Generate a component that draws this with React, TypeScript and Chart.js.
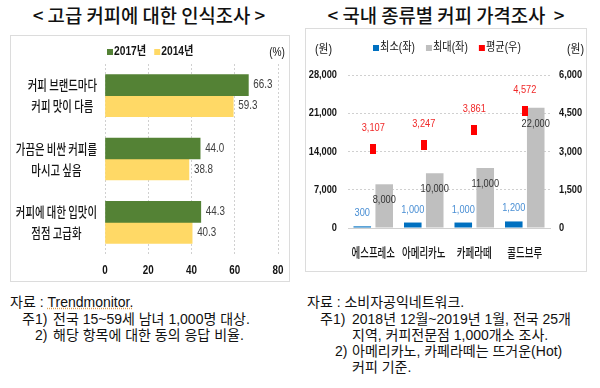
import React, { useEffect, useRef } from "react";
import { Chart, registerables } from "chart.js";

Chart.register(...registerables);

// ---------- data: left chart (고급 커피에 대한 인식조사) ----------
const surveyCategories = [
  ["커피 브랜드마다", "커피 맛이 다름"],
  ["가끔은 비싼 커피를", "마시고 싶음"],
  ["커피에 대한 입맛이", "점점 고급화"],
];
const surveySeriesNames = ["2017년", "2014년"];
const survey2017 = [66.3, 44.0, 44.3];
const survey2014 = [59.3, 38.8, 40.3];
const surveyTicks = [0, 20, 40, 60, 80];

// ---------- data: right chart (국내 종류별 커피 가격조사) ----------
const priceCategories = ["에스프레소", "아메리카노", "카페라떼", "콜드브루"];
const priceSeriesNames = ["최소(좌)", "최대(좌)", "평균(우)"];
const priceMin = [300, 1000, 1000, 1200];
const priceMax = [8000, 10000, 11000, 22000];
const priceAvg = [3107, 3247, 3861, 4572];
const priceLeftTicks = [0, 7000, 14000, 21000, 28000];
const priceRightTicks = [0, 1500, 3000, 4500, 6000];

// ---------- text ----------
const leftTitle = "< 고급 커피에 대한 인식조사 >";
const rightTitle = "< 국내 종류별 커피 가격조사 \u00a0>";

const NUM_FONT = "'Liberation Sans', 'Noto Sans CJK KR', sans-serif";
const KR_FONT = "'Noto Sans CJK KR', sans-serif";
const NOTE_FONT = "'Liberation Sans', 'Noto Sans CJK KR', sans-serif";

const GREEN = "#548235";
const YELLOW = "#FFD966";
const BLUE = "#0070C0";
const GRAY = "#BFBFBF";
const RED = "#FF0000";
const TEXT = "#141414";

const fmt = (v: number) => Number(v).toLocaleString("en-US");

// draw text horizontally condensed by sx around the anchor point
function txt(
  ctx: CanvasRenderingContext2D,
  s: string,
  x: number,
  y: number,
  font: string,
  color: string,
  align: CanvasTextAlign,
  sx: number
) {
  ctx.save();
  ctx.font = font;
  ctx.fillStyle = color;
  ctx.textAlign = align;
  ctx.textBaseline = "middle";
  ctx.translate(x, y);
  ctx.scale(sx, 1);
  ctx.fillText(s, 0, 0);
  ctx.restore();
}
function tw(ctx: CanvasRenderingContext2D, s: string, font: string, sx: number) {
  ctx.save();
  ctx.font = font;
  const w = ctx.measureText(s).width * sx;
  ctx.restore();
  return w;
}

function SurveyChart() {
  const ref = useRef<HTMLCanvasElement | null>(null);
  useEffect(() => {
    if (!ref.current) return;
    const deco = {
      id: "surveyDeco",
      afterDatasetsDraw(chart: any) {
        const ctx = chart.ctx as CanvasRenderingContext2D;
        const area = chart.chartArea;
        // value labels
        const vFont = `12px ${NUM_FONT}`;
        chart.data.datasets.forEach((ds: any, di: number) => {
          chart.getDatasetMeta(di).data.forEach((el: any, j: number) => {
            txt(ctx, Number(ds.data[j]).toFixed(1), el.x + 5, el.y, vFont, "#404040", "left", 0.82);
          });
        });
        // category labels: block right-aligned, lines centred within block
        const cFont = `500 13.5px ${KR_FONT}`;
        const csx = 0.77;
        const right = area.left - 8;
        surveyCategories.forEach((lines, j) => {
          const widest = Math.max(...lines.map((l) => tw(ctx, l, cFont, csx)));
          const cx = right - widest / 2;
          lines.forEach((line, i) => {
            const el = chart.getDatasetMeta(i).data[j];
            txt(ctx, line, cx, el.y, cFont, TEXT, "center", csx);
          });
        });
        // x tick labels
        const xs = chart.scales.x;
        const tFont = `bold 12px ${NUM_FONT}`;
        xs.ticks.forEach((t: any) => {
          txt(ctx, String(t.value), xs.getPixelForValue(t.value), area.bottom + 17, tFont, TEXT, "center", 0.82);
        });
        // legend
        const ly = area.top - 12;
        let x = area.left + 2;
        const lFont = `bold 12.5px ${NUM_FONT}`;
        chart.data.datasets.forEach((ds: any) => {
          ctx.fillStyle = ds.backgroundColor;
          ctx.fillRect(x, ly - 3, 6, 6);
          txt(ctx, ds.label, x + 7, ly, lFont, TEXT, "left", 0.82);
          x += 7 + tw(ctx, ds.label, lFont, 0.82) + 8;
        });
        txt(ctx, "(%)", area.right + 7, ly + 1, `12px ${NUM_FONT}`, TEXT, "right", 0.85);
      },
    };
    const chart = new Chart(ref.current, {
      type: "bar",
      data: {
        labels: surveyCategories.map((l) => l.join(" ")),
        datasets: [
          {
            label: surveySeriesNames[0],
            data: survey2017,
            backgroundColor: GREEN,
            barThickness: 21,
            categoryPercentage: 0.727,
          },
          {
            label: surveySeriesNames[1],
            data: survey2014,
            backgroundColor: YELLOW,
            barThickness: 21,
            categoryPercentage: 0.727,
          },
        ],
      },
      options: {
        indexAxis: "y",
        animation: false,
        responsive: false,
        maintainAspectRatio: false,
        layout: { padding: { top: 29, right: 12, left: 0, bottom: 0 } },
        plugins: { legend: { display: false }, tooltip: { enabled: false } },
        scales: {
          x: {
            min: surveyTicks[0],
            max: surveyTicks[surveyTicks.length - 1],
            ticks: { display: false, stepSize: surveyTicks[1] - surveyTicks[0] },
            grid: { color: "#d0d0d0", drawTicks: false },
            border: { display: false, dash: [2, 2] },
            afterFit: (s: any) => {
              s.height = 28;
            },
          },
          y: {
            ticks: { display: false },
            grid: { display: false },
            border: { display: false },
            afterFit: (s: any) => {
              s.width = 95;
            },
          },
        },
      } as any,
      plugins: [deco],
    });
    return () => chart.destroy();
  }, []);
  return (
    <canvas
      ref={ref}
      width={280}
      height={247}
      style={{ position: "absolute", left: 10, top: 35, width: 280, height: 247 }}
    />
  );
}

function PriceChart() {
  const ref = useRef<HTMLCanvasElement | null>(null);
  useEffect(() => {
    if (!ref.current) return;
    const marker = document.createElement("canvas");
    marker.width = 6;
    marker.height = 10;
    const mctx = marker.getContext("2d")!;
    mctx.fillStyle = RED;
    mctx.fillRect(0, 0, 6, 10);

    const deco = {
      id: "priceDeco",
      afterDatasetsDraw(chart: any) {
        const ctx = chart.ctx as CanvasRenderingContext2D;
        const area = chart.chartArea;
        const vFont = `11px ${NUM_FONT}`;
        // min labels (above bar)
        chart.getDatasetMeta(0).data.forEach((el: any, j: number) => {
          txt(ctx, fmt(priceMin[j]), el.x, el.y - 13, vFont, "#4A8FD4", "center", 0.84);
        });
        // max labels (inside bar near its top)
        chart.getDatasetMeta(1).data.forEach((el: any, j: number) => {
          txt(ctx, fmt(priceMax[j]), el.x, el.y + 16, vFont, "#333333", "center", 0.84);
        });
        // avg labels (above marker)
        chart.getDatasetMeta(2).data.forEach((el: any, j: number) => {
          txt(ctx, fmt(priceAvg[j]), el.x, el.y - 21, vFont, "#F02828", "center", 0.84);
        });
        // y tick labels
        const tFont = `bold 11px ${NUM_FONT}`;
        const ys = chart.scales.y;
        ys.ticks.forEach((t: any) => {
          txt(ctx, fmt(t.value), area.left - 11, ys.getPixelForValue(t.value), tFont, TEXT, "right", 0.84);
        });
        const y1 = chart.scales.y1;
        y1.ticks.forEach((t: any) => {
          txt(ctx, fmt(t.value), area.right + 9, y1.getPixelForValue(t.value), tFont, TEXT, "left", 0.84);
        });
        // category labels
        const xs = chart.scales.x;
        const cFont = `500 13px ${KR_FONT}`;
        priceCategories.forEach((c, j) => {
          txt(ctx, c, xs.getPixelForTick(j), area.bottom + 24, cFont, TEXT, "center", 0.73);
        });
        // unit labels
        const uFont = `12px ${NOTE_FONT}`;
        txt(ctx, "(원)", 10, 22, uFont, TEXT, "left", 0.9);
        txt(ctx, "(원)", area.right + 17, 22, uFont, TEXT, "left", 0.9);
        // legend
        const ly = 20;
        let x = area.left + 25;
        const lFont = `12px ${NOTE_FONT}`;
        const colors = [BLUE, GRAY, RED];
        priceSeriesNames.forEach((name, i) => {
          ctx.fillStyle = colors[i];
          ctx.fillRect(x, ly - 3, 6, 6);
          txt(ctx, name, x + 7, ly, lFont, TEXT, "left", 0.85);
          x += 7 + tw(ctx, name, lFont, 0.85) + 11;
        });
      },
    };

    const chart = new Chart(ref.current, {
      type: "bar",
      data: {
        labels: priceCategories,
        datasets: [
          {
            label: priceSeriesNames[0],
            data: priceMin,
            backgroundColor: BLUE,
            yAxisID: "y",
            categoryPercentage: 0.87,
            barPercentage: 0.8,
            order: 2,
          },
          {
            label: priceSeriesNames[1],
            data: priceMax,
            backgroundColor: GRAY,
            yAxisID: "y",
            categoryPercentage: 0.87,
            barPercentage: 0.8,
            order: 2,
          },
          {
            type: "line",
            label: priceSeriesNames[2],
            data: priceAvg,
            yAxisID: "y1",
            showLine: false,
            pointStyle: marker,
            pointRadius: 5,
            backgroundColor: RED,
            borderColor: RED,
            order: 1,
          } as any,
        ],
      },
      options: {
        animation: false,
        responsive: false,
        maintainAspectRatio: false,
        layout: { padding: { top: 47, right: 0, left: 0, bottom: 0 } },
        plugins: { legend: { display: false }, tooltip: { enabled: false } },
        scales: {
          x: {
            ticks: { display: false },
            grid: { display: false, drawTicks: false },
            border: { display: true, color: "#d0d0d0" },
            afterFit: (s: any) => {
              s.height = 44;
            },
          },
          y: {
            position: "left",
            min: priceLeftTicks[0],
            max: priceLeftTicks[priceLeftTicks.length - 1],
            ticks: { display: false, stepSize: priceLeftTicks[1] - priceLeftTicks[0] },
            grid: {
              drawTicks: false,
              color: (c: any) => (c.tick && c.tick.value === 0 ? "rgba(0,0,0,0)" : "#d0d0d0"),
            },
            border: { display: false, dash: [2, 2] },
            afterFit: (s: any) => {
              s.width = 43;
            },
          },
          y1: {
            position: "right",
            min: priceRightTicks[0],
            max: priceRightTicks[priceRightTicks.length - 1],
            ticks: { display: false, stepSize: priceRightTicks[1] - priceRightTicks[0] },
            grid: { display: false, drawTicks: false },
            border: { display: false },
            afterFit: (s: any) => {
              s.width = 37;
            },
          },
        },
      } as any,
      plugins: [deco],
    });
    return () => chart.destroy();
  }, []);
  return (
    <canvas
      ref={ref}
      width={282}
      height={244}
      style={{ position: "absolute", left: 305, top: 28, width: 282, height: 244 }}
    />
  );
}

const noteStyle: React.CSSProperties = {
  position: "absolute",
  fontFamily: NOTE_FONT,
  fontSize: 14,
  lineHeight: "16px",
  color: "#111",
  whiteSpace: "nowrap",
};

function Note({ x, y, children }: { x: number; y: number; children: React.ReactNode }) {
  return <div style={{ ...noteStyle, left: x, top: y - 8 }}>{children}</div>;
}

const titleStyle: React.CSSProperties = {
  position: "absolute",
  top: 3,
  textAlign: "center",
  fontSize: 18.8,
  fontWeight: 500,
  lineHeight: "24px",
  color: "#111",
  whiteSpace: "nowrap",
};

export default function App() {
  return (
    <div
      style={{
        position: "absolute",
        left: 0,
        top: 0,
        width: 600,
        height: 388,
        background: "#fff",
        overflow: "hidden",
        fontFamily: KR_FONT,
      }}
    >
      <div style={{ ...titleStyle, left: 0, width: 298 }}>{leftTitle}</div>
      <div style={{ ...titleStyle, left: 300, width: 292 }}>{rightTitle}</div>

      <div
        style={{
          position: "absolute",
          left: 10,
          top: 35,
          width: 280,
          height: 247,
          border: "1px solid #dcdcdc",
          boxSizing: "border-box",
        }}
      />
      <SurveyChart />

      <div
        style={{
          position: "absolute",
          left: 305,
          top: 28,
          width: 282,
          height: 244,
          border: "1px solid #dcdcdc",
          boxSizing: "border-box",
        }}
      />
      <PriceChart />

      <Note x={10} y={302}>
        자료 :{" "}
        <span style={{ textDecoration: "underline dotted #E0A050" }}>Trendmonitor.</span>
      </Note>
      <Note x={22} y={319}>주1)</Note>
      <Note x={53} y={319}>전국 15~59세 남녀 1,000명 대상.</Note>
      <Note x={35} y={335}>2)</Note>
      <Note x={53} y={335}>해당 항목에 대한 동의 응답 비율.</Note>

      <Note x={307} y={302}>자료 : 소비자공익네트워크.</Note>
      <Note x={320} y={319}>주1)</Note>
      <Note x={352} y={319}>2018년 12월~2019년 1월, 전국 25개</Note>
      <Note x={352} y={335}>지역, 커피전문점 1,000개소 조사.</Note>
      <Note x={335} y={351}>2)</Note>
      <Note x={352} y={351}>아메리카노, 카페라떼는 뜨거운(Hot)</Note>
      <Note x={352} y={367}>커피 기준.</Note>
    </div>
  );
}
